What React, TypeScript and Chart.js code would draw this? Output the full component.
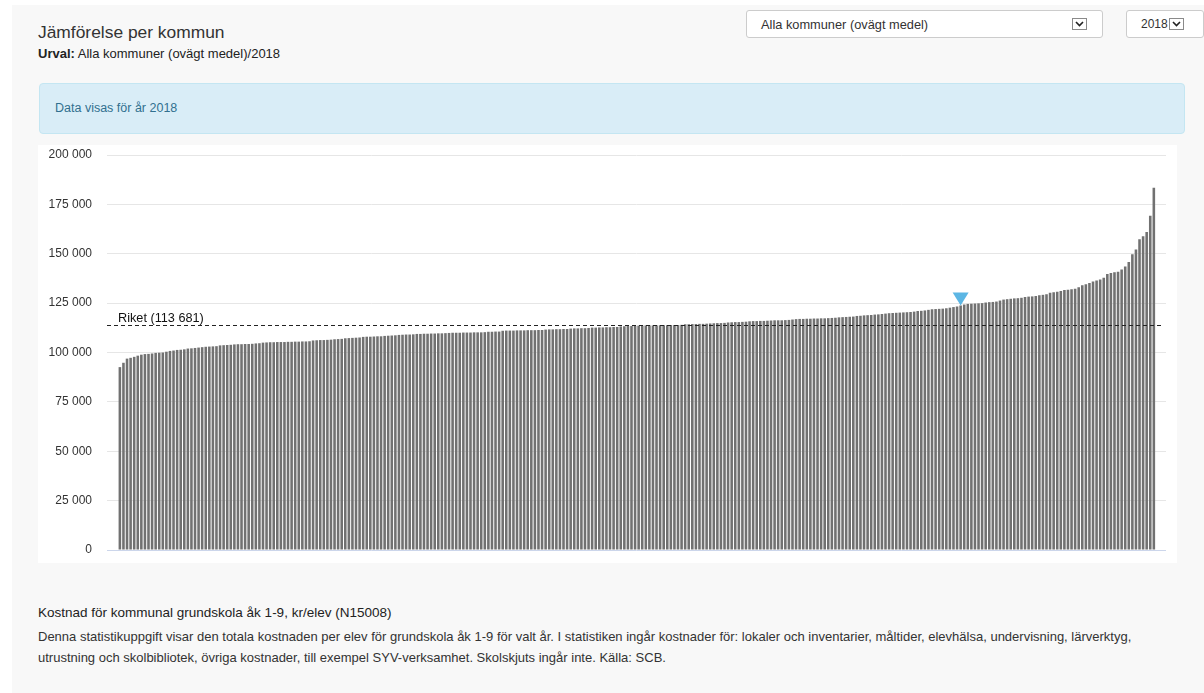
import React, { useEffect, useRef } from "react";
import { Chart, registerables } from "chart.js";

Chart.register(...registerables);

// Kostnad för kommunal grundskola åk 1-9, kr/elev, 2018 – alla kommuner, sorterade
const values: number[] = [
  92600, 94800, 96900, 97300, 97800, 98400, 98900, 99200, 99300, 99500,
  99800, 99900, 100000, 100400, 100800, 101000, 101300, 101400, 101600, 102000,
  102100, 102300, 102500, 102700, 102900, 103000, 103100, 103200, 103600, 103700,
  103800, 103900, 104100, 104200, 104200, 104300, 104300, 104400, 104600, 104700,
  105000, 105100, 105200, 105200, 105300, 105300, 105300, 105400, 105400, 105500,
  105500, 105600, 105600, 105700, 106100, 106200, 106300, 106300, 106400, 106500,
  106700, 106800, 106900, 107200, 107300, 107400, 107500, 107600, 107900, 108000,
  108000, 108100, 108200, 108200, 108400, 108500, 108600, 108700, 108900, 109000,
  109100, 109100, 109200, 109400, 109400, 109500, 109500, 109600, 109600, 109700,
  109700, 109800, 109900, 110000, 110000, 110000, 110100, 110100, 110100, 110200,
  110200, 110200, 110300, 110500, 110500, 110600, 110600, 111000, 111100, 111100,
  111100, 111200, 111200, 111200, 111300, 111300, 111300, 111400, 111400, 111600,
  111700, 111700, 111800, 111800, 111900, 111900, 112100, 112200, 112200, 112300,
  112300, 112400, 112600, 112600, 112700, 112700, 112800, 112800, 112900, 112900,
  113200, 113300, 113400, 113400, 113500, 113600, 113600, 113700, 113700, 113700,
  113700, 113800, 113800, 113800, 113900, 113900, 113900, 114000, 114300, 114300,
  114400, 114400, 114500, 114500, 114600, 114700, 114800, 114900, 114900, 115000,
  115200, 115300, 115400, 115400, 115500, 115600, 115800, 115900, 115900, 116000,
  116000, 116100, 116200, 116300, 116300, 116300, 116400, 116500, 116700, 116900,
  117000, 117000, 117100, 117100, 117200, 117200, 117300, 117300, 117400, 117500,
  117600, 117800, 117900, 118000, 118100, 118200, 118500, 118600, 118800, 118900,
  119000, 119200, 119300, 119500, 119700, 119900, 120000, 120100, 120200, 120300,
  120400, 120500, 120700, 121000, 121100, 121300, 121600, 121900, 122000, 122100,
  122200, 122400, 122700, 123000, 123300, 123800, 124300, 124600, 124700, 124800,
  124900, 125000, 125300, 125500, 125600, 125800, 126300, 126800, 127000, 127200,
  127400, 127500, 127700, 128100, 128300, 128400, 128600, 129000, 129200, 129500,
  130200, 130500, 130800, 131200, 131600, 131800, 132000, 132300, 133000, 134000,
  134600, 135200, 136000, 136500, 137000, 137900, 139800, 140300, 140600, 140900,
  142000, 143600, 145800, 149800, 152200, 157400, 158800, 161000, 169300, 183400,
];

const riketValue = 113681;
const riketLabel = "Riket (113 681)";
const markedIndex = 235; // Alla kommuner (ovägt medel)
const yMin = 0;
const yMax = 200000;
const yStep = 25000;

const FONT = '"Liberation Sans", Arial, sans-serif';

const fmt = (n: number) =>
  String(Math.round(n)).replace(/\B(?=(\d{3})+(?!\d))/g, " ");

const overlayPlugin = {
  id: "riketOverlay",
  afterDatasetsDraw(chart: any) {
    const { ctx, chartArea, scales } = chart;
    const y = Math.round(scales.y.getPixelForValue(riketValue)) + 0.5;
    ctx.save();
    ctx.strokeStyle = "#222";
    ctx.lineWidth = 1;
    ctx.setLineDash([4, 3]);
    ctx.beginPath();
    ctx.moveTo(chartArea.left, y);
    ctx.lineTo(chartArea.right - 3, y);
    ctx.stroke();
    ctx.setLineDash([]);
    ctx.font = `12.7px ${FONT}`;
    ctx.fillStyle = "#111";
    ctx.textBaseline = "alphabetic";
    ctx.textAlign = "left";
    ctx.fillText(riketLabel, chartArea.left + 11, y - 4);

    const meta = chart.getDatasetMeta(0);
    const bar = meta.data[markedIndex];
    if (bar) {
      const bx = bar.x;
      const by = bar.y;
      ctx.fillStyle = "#5cb6e4";
      ctx.beginPath();
      ctx.moveTo(bx - 8, by - 13);
      ctx.lineTo(bx + 8, by - 13);
      ctx.lineTo(bx, by);
      ctx.closePath();
      ctx.fill();
    }
    ctx.restore();
  },
};

function Chevron() {
  return (
    <div
      style={{
        width: 15,
        height: 12,
        border: "1px solid #8a8a8a",
        background: "#fff",
        display: "flex",
        alignItems: "center",
        justifyContent: "center",
        boxSizing: "border-box",
      }}
    >
      <svg width="9" height="6" viewBox="0 0 9 6">
        <polyline points="1,1 4.5,4.5 8,1" fill="none" stroke="#222" strokeWidth="1.6" />
      </svg>
    </div>
  );
}

export default function App() {
  const canvasRef = useRef<HTMLCanvasElement | null>(null);

  useEffect(() => {
    if (!canvasRef.current) return;
    const chart = new Chart(canvasRef.current, {
      type: "bar",
      data: {
        datasets: [
          {
            data: values.map((v, i) => ({ x: i, y: v })),
            backgroundColor: "#717171",
            borderWidth: 0,
            barPercentage: 0.72,
            categoryPercentage: 1,
          },
        ],
      },
      options: {
        animation: false,
        responsive: true,
        maintainAspectRatio: false,
        layout: { padding: { top: 10, bottom: 13, left: 0, right: 11 } },
        plugins: { legend: { display: false }, tooltip: { enabled: false } },
        scales: {
          x: {
            type: "linear",
            min: -3.6,
            max: 292.4,
            offset: false,
            display: false,
            grid: { display: false },
          },
          y: {
            min: yMin,
            max: yMax,
            border: { display: false },
            grid: {
              drawTicks: false,
              color: (c: any) => (c.tick && c.tick.value === 0 ? "#ccd6eb" : "#e6e6e6"),
            },
            ticks: {
              stepSize: yStep,
              padding: 15,
              color: "#333",
              font: { family: FONT, size: 12 },
              callback: (v: any) => fmt(Number(v)),
            },
            afterFit: (axis: any) => {
              axis.width = 69;
              axis.paddingTop = 0;
              axis.paddingBottom = 0;
            },
          },
        },
      } as any,
      plugins: [overlayPlugin],
    });
    return () => chart.destroy();
  }, []);

  return (
    <div
      style={{
        position: "absolute",
        left: 0,
        top: 0,
        width: 1204,
        height: 693,
        background: "#fff",
        fontFamily: FONT,
        color: "#333",
        overflow: "hidden",
      }}
    >
      <div
        style={{
          position: "absolute",
          left: 12,
          top: 5,
          width: 1192,
          height: 688,
          background: "#f8f8f8",
        }}
      />
      <div style={{ position: "absolute", left: 38, top: 22, fontSize: 17.4, color: "#333", whiteSpace: "nowrap" }}>
        Jämförelse per kommun
      </div>
      <div style={{ position: "absolute", left: 38, top: 46, fontSize: 13, color: "#222", whiteSpace: "nowrap" }}>
        <b>Urval:</b> Alla kommuner (ovägt medel)/2018
      </div>

      {/* select 1 */}
      <div
        style={{
          position: "absolute",
          left: 746,
          top: 10,
          width: 357,
          height: 28,
          boxSizing: "border-box",
          border: "1px solid #ccc",
          borderRadius: 3,
          background: "#fff",
        }}
      >
        <div style={{ position: "absolute", left: 14, top: 6, fontSize: 12.8, color: "#333", whiteSpace: "nowrap" }}>
          Alla kommuner (ovägt medel)
        </div>
        <div style={{ position: "absolute", left: 325, top: 7 }}>
          <Chevron />
        </div>
      </div>

      {/* select 2 */}
      <div
        style={{
          position: "absolute",
          left: 1126,
          top: 10,
          width: 78,
          height: 28,
          boxSizing: "border-box",
          border: "1px solid #ccc",
          borderRadius: 3,
          background: "#fff",
        }}
      >
        <div style={{ position: "absolute", left: 14, top: 6, fontSize: 12, color: "#333" }}>2018</div>
        <div style={{ position: "absolute", left: 42, top: 7 }}>
          <Chevron />
        </div>
      </div>

      {/* info box */}
      <div
        style={{
          position: "absolute",
          left: 39,
          top: 83,
          width: 1146,
          height: 51,
          boxSizing: "border-box",
          background: "#d9edf7",
          border: "1px solid #c4e6f2",
          borderRadius: 4,
        }}
      >
        <div style={{ position: "absolute", left: 15, top: 17, fontSize: 12.5, color: "#31708f", whiteSpace: "nowrap" }}>
          Data visas för år 2018
        </div>
      </div>

      {/* chart panel */}
      <div
        style={{
          position: "absolute",
          left: 38,
          top: 145,
          width: 1139,
          height: 418,
          background: "#fff",
        }}
      >
        <canvas ref={canvasRef} />
      </div>

      {/* footer */}
      <div style={{ position: "absolute", left: 38, top: 605, fontSize: 13.5, color: "#222", whiteSpace: "nowrap" }}>
        Kostnad för kommunal grundskola åk 1-9, kr/elev (N15008)
      </div>
      <div style={{ position: "absolute", left: 38, top: 626, fontSize: 13, lineHeight: "21px", color: "#333", whiteSpace: "nowrap" }}>
        Denna statistikuppgift visar den totala kostnaden per elev för grundskola åk 1-9 för valt år. I statistiken ingår kostnader för: lokaler och inventarier, måltider, elevhälsa, undervisning, lärverktyg,
        <br />
        utrustning och skolbibliotek, övriga kostnader, till exempel SYV-verksamhet. Skolskjuts ingår inte. Källa: SCB.
      </div>
    </div>
  );
}
